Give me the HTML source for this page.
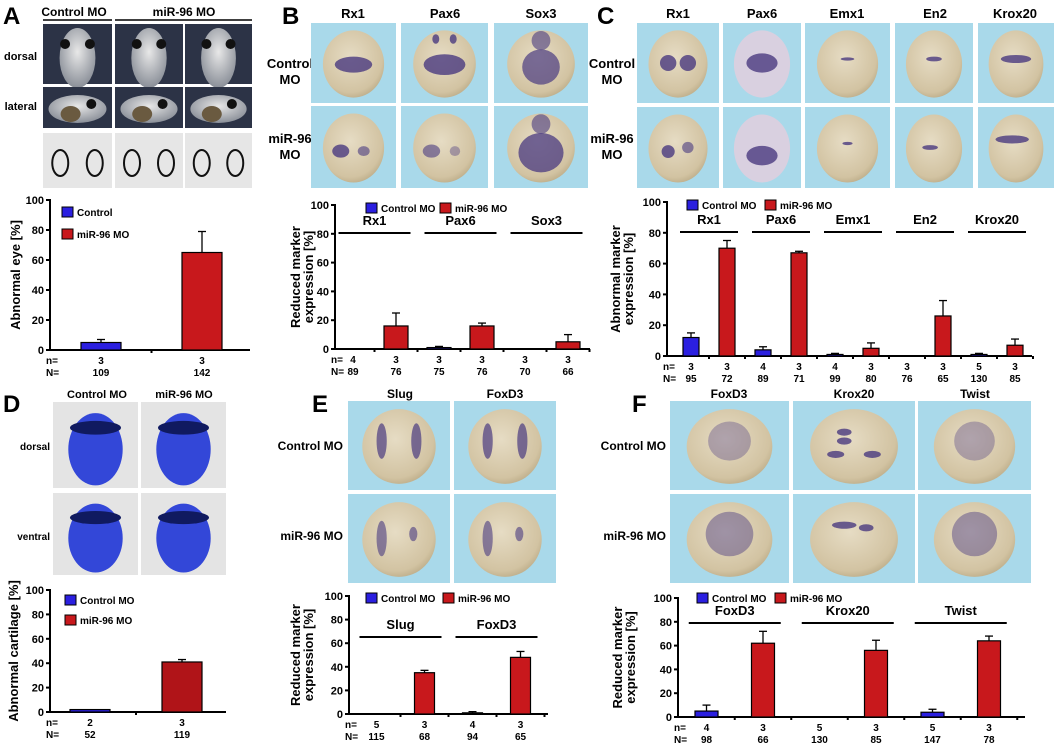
<!DOCTYPE html>
<html><head><meta charset="utf-8"><style>
html,body{margin:0;padding:0;background:#fff;}
svg{display:block;font-family:"Liberation Sans",Arial,sans-serif;}
text{font-weight:bold;fill:#000;}
</style></head><body>
<svg id="fig" width="1058" height="743" viewBox="0 0 1058 743" xmlns="http://www.w3.org/2000/svg">
<defs>
<radialGradient id="emb" cx="45%" cy="40%" r="65%"><stop offset="0" stop-color="#e6dcc4"/><stop offset="0.8" stop-color="#d2c3a2"/><stop offset="1" stop-color="#b9a985"/></radialGradient>
<radialGradient id="tad" cx="50%" cy="40%" r="60%"><stop offset="0" stop-color="#e8e8e8"/><stop offset="1" stop-color="#8a8f98"/></radialGradient>
</defs>
<g id="photos"></g>
<g id="charts"></g>
</svg>
<script>
// ---- chart data ----
const aCats = ['Control', 'miR-96 MO'];
const aVals = [5, 65];
const aErr = [2, 14];
const aSmallN = ['3', '3'];
const aBigN = ['109', '142'];

const bGroups = ['Rx1', 'Pax6', 'Sox3'];
const bCtrl = [0, 1, 0];
const bCtrlErr = [0, 0.8, 0];
const bMir = [16, 16, 5];
const bMirErr = [9, 2, 5];
const bSmallN = ['4', '3', '3', '3', '3', '3'];
const bBigN = ['89', '76', '75', '76', '70', '66'];

const cGroups = ['Rx1', 'Pax6', 'Emx1', 'En2', 'Krox20'];
const cCtrl = [12, 4, 1, 0, 1];
const cCtrlErr = [3, 2, 0.7, 0, 0.7];
const cMir = [70, 67, 5, 26, 7];
const cMirErr = [5, 1, 3.5, 10, 4];
const cSmallN = ['3', '3', '4', '3', '4', '3', '3', '3', '5', '3'];
const cBigN = ['95', '72', '89', '71', '99', '80', '76', '65', '130', '85'];

const dCats = ['Control MO', 'miR-96 MO'];
const dVals = [2, 41];
const dErr = [0, 2];
const dSmallN = ['2', '3'];
const dBigN = ['52', '119'];

const eGroups = ['Slug', 'FoxD3'];
const eCtrl = [0, 1];
const eCtrlErr = [0, 1];
const eMir = [35, 48];
const eMirErr = [2, 5];
const eSmallN = ['5', '3', '4', '3'];
const eBigN = ['115', '68', '94', '65'];

const fGroups = ['FoxD3', 'Krox20', 'Twist'];
const fCtrl = [5, 0, 4];
const fCtrlErr = [5, 0, 2.5];
const fMir = [62, 56, 64];
const fMirErr = [10, 8.5, 4];
const fSmallN = ['4', '3', '5', '3', '5', '3'];
const fBigN = ['98', '66', '130', '85', '147', '78'];

const yTicks = [0, 20, 40, 60, 80, 100];
const BLUE = '#2b1fe0', RED = '#c8181c';
const NS = 'http://www.w3.org/2000/svg';

function mk(parent, tag, attrs) {
  const e = document.createElementNS(NS, tag);
  for (const k in attrs) e.setAttribute(k, attrs[k]);
  parent.appendChild(e);
  return e;
}
function txt(parent, x, y, s, size, anchor, extra) {
  const t = mk(parent, 'text', Object.assign({x: x, y: y, 'font-size': size, 'text-anchor': anchor || 'middle'}, extra || {}));
  t.textContent = s;
  return t;
}

const charts = document.getElementById('charts');

function drawChart(cfg, name) {
  const g = mk(charts, 'g', {});
  
  
  const yS = v => cfg.y0 - (v / 100) * (cfg.y0 - cfg.y100);
  const xS = i => cfg.x0 + cfg.pad + i * cfg.step;
  // y axis
  const ya = mk(g, 'line', {x1: cfg.x0, y1: cfg.y100 - 1, x2: cfg.x0, y2: cfg.y0 + 1, stroke: '#000', 'stroke-width': 2});
  
  
  yTicks.forEach(t => {
    mk(g, 'line', {x1: cfg.x0 - 4, y1: yS(t), x2: cfg.x0, y2: yS(t), stroke: '#000', 'stroke-width': 2});
    const l = txt(g, cfg.x0 - 6, yS(t) + 4, String(t), 11, 'end');
    
    
  });
  const xa = mk(g, 'line', {x1: cfg.x0, y1: cfg.y0, x2: cfg.x1, y2: cfg.y0, stroke: '#000', 'stroke-width': 2});
  
  
  const nb = cfg.vals.length;
  for (let i = 1; i <= nb; i++) {
    const tx = cfg.x0 + cfg.pad + (i - 0.5) * cfg.step;
    if (tx < cfg.x1 + 2) mk(g, 'line', {x1: tx, y1: cfg.y0, x2: tx, y2: cfg.y0 + 3, stroke: '#000', 'stroke-width': 2});
  }
  // bars
  cfg.vals.forEach((v, i) => {
    const cx = xS(i), col = cfg.colors[i];
    if (v > 0) {
      const r = mk(g, 'rect', {x: cx - cfg.bw / 2, y: yS(v), width: cfg.bw, height: cfg.y0 - yS(v), fill: col, stroke: '#000', 'stroke-width': 1.2});
      
      
      const e = cfg.errs[i];
      if (e > 0) {
        mk(g, 'line', {x1: cx, y1: yS(v), x2: cx, y2: yS(v + e), stroke: '#000', 'stroke-width': 1.3});
        mk(g, 'line', {x1: cx - 4, y1: yS(v + e), x2: cx + 4, y2: yS(v + e), stroke: '#000', 'stroke-width': 1.3});
      }
    }
    txt(g, cx, cfg.y0 + 14, cfg.smallN[i], 10);
    txt(g, cx, cfg.y0 + 26, cfg.bigN[i], 10);
  });
  txt(g, cfg.x0 - 4, cfg.y0 + 14, 'n=', 10, 'start');
  txt(g, cfg.x0 - 4, cfg.y0 + 26, 'N=', 10, 'start');
  // groups
  if (cfg.groups) {
    cfg.groups.forEach((gn, j) => {
      const c = (xS(2 * j) + xS(2 * j + 1)) / 2;
      const gl = mk(g, 'line', {x1: c - cfg.gh, y1: cfg.gy, x2: c + cfg.gh, y2: cfg.gy, stroke: '#000', 'stroke-width': 2});
      
      
      const gt = txt(g, c, cfg.gy - 8, gn, 13);
      
      
    });
  }
  // legend
  cfg.legend.forEach(L => {
    mk(g, 'rect', {x: L[0], y: L[1] - 9, width: 11, height: 10, fill: L[3], stroke: '#000', 'stroke-width': 1});
    const lt = txt(g, L[0] + 15, L[1], L[2], 10, 'start');
    
    
  });
  // y title
  const yc = (cfg.y0 + cfg.y100) / 2;
  cfg.ytitle.forEach((s, k) => {
    const xx = cfg.ytx + k * 13;
    const t = txt(g, xx, yc, s, 13, 'middle', {transform: 'rotate(-90 ' + xx + ' ' + yc + ')'});
    
    
  });
}
function inter(c, m) { const o = []; c.forEach((v, i) => { o.push(v); o.push(m[i]); }); return o; }
function cols(n) { const o = []; for (let i = 0; i < n; i++) o.push(i % 2 ? RED : BLUE); return o; }
function labs(gs) { const o = []; gs.forEach(x => { o.push(x + '-control'); o.push(x + '-mir96'); }); return o; }

drawChart({x0: 50, x1: 250, y0: 350, y100: 200, pad: 51, step: 101, bw: 40, vals: aVals, errs: aErr, colors: [BLUE, RED], labels: ['control', 'mir96'],
  smallN: aSmallN, bigN: aBigN, legend: [[62, 216, aCats[0], BLUE], [62, 238, aCats[1], RED]], ytitle: ['Abnormal eye [%]'], ytx: 20}, 'chart-a');
drawChart({x0: 335, x1: 590, y0: 349, y100: 205, pad: 18, step: 43, bw: 24, vals: inter(bCtrl, bMir), errs: inter(bCtrlErr, bMirErr), colors: cols(6), labels: labs(bGroups),
  smallN: bSmallN, bigN: bBigN, groups: bGroups, gh: 36, gy: 233, legend: [[366, 212, 'Control MO', BLUE], [440, 212, 'miR-96 MO', RED]], ytitle: ['Reduced marker', 'expression [%]'], ytx: 300}, 'chart-b');
drawChart({x0: 667, x1: 1032, y0: 356, y100: 202, pad: 24, step: 36, bw: 16, vals: inter(cCtrl, cMir), errs: inter(cCtrlErr, cMirErr), colors: cols(10), labels: labs(cGroups),
  smallN: cSmallN, bigN: cBigN, groups: cGroups, gh: 29, gy: 232, legend: [[687, 209, 'Control MO', BLUE], [765, 209, 'miR-96 MO', RED]], ytitle: ['Abnormal marker', 'expression [%]'], ytx: 620}, 'chart-c');
drawChart({x0: 50, x1: 226, y0: 712, y100: 590, pad: 40, step: 92, bw: 40, vals: dVals, errs: dErr, colors: [BLUE, '#b01418'], labels: ['control', 'mir96'],
  smallN: dSmallN, bigN: dBigN, legend: [[65, 604, dCats[0], BLUE], [65, 624, dCats[1], RED]], ytitle: ['Abnormal cartilage [%]'], ytx: 18}, 'chart-d');
drawChart({x0: 349, x1: 548, y0: 714, y100: 596, pad: 27.5, step: 48, bw: 20, vals: inter(eCtrl, eMir), errs: inter(eCtrlErr, eMirErr), colors: cols(4), labels: labs(eGroups),
  smallN: eSmallN, bigN: eBigN, groups: eGroups, gh: 41, gy: 637, legend: [[366, 602, 'Control MO', BLUE], [443, 602, 'miR-96 MO', RED]], ytitle: ['Reduced marker', 'expression [%]'], ytx: 300}, 'chart-e');
drawChart({x0: 678, x1: 1025, y0: 717, y100: 598, pad: 28.5, step: 56.5, bw: 23, vals: inter(fCtrl, fMir), errs: inter(fCtrlErr, fMirErr), colors: cols(6), labels: labs(fGroups),
  smallN: fSmallN, bigN: fBigN, groups: fGroups, gh: 46, gy: 623, legend: [[697, 602, 'Control MO', BLUE], [775, 602, 'miR-96 MO', RED]], ytitle: ['Reduced marker', 'expression [%]'], ytx: 622}, 'chart-f');

// ---- photo panels (decorative) ----
const ph = document.getElementById('photos');
function letter(x, y, s) { const t = txt(ph, x, y, s, 24, 'start');   }
letter(3, 24, 'A'); letter(282, 24, 'B'); letter(597, 24, 'C'); letter(3, 412, 'D'); letter(312, 412, 'E'); letter(632, 412, 'F');

function embryo(x, y, w, h, blobs, pale) {
  const r = mk(ph, 'rect', {x: x, y: y, width: w, height: h, fill: '#a9d9ea'});
  
  
  mk(ph, 'ellipse', {cx: x + w / 2, cy: y + h / 2 + 1, rx: w * 0.36, ry: h * 0.42, fill: pale ? '#d9d0e0' : 'url(#emb)'});
  (blobs || []).forEach(b => mk(ph, 'ellipse', {cx: x + w * b[0], cy: y + h * b[1], rx: w * b[2], ry: h * b[3], fill: '#4a3a80', opacity: b[4] || 0.8}));
}
// A
txt(ph, 74, 16, 'Control MO', 12); mk(ph, 'line', {x1: 43, y1: 20, x2: 112, y2: 20, stroke: '#000', 'stroke-width': 1.5});
txt(ph, 184, 16, 'miR-96 MO', 12); mk(ph, 'line', {x1: 115, y1: 20, x2: 252, y2: 20, stroke: '#000', 'stroke-width': 1.5});
txt(ph, 37, 60, 'dorsal', 11, 'end'); txt(ph, 37, 110, 'lateral', 11, 'end');
[[43, 112], [115, 183], [185, 252]].forEach(c => {
  const w = c[1] - c[0];
  mk(ph, 'rect', {x: c[0], y: 24, width: w, height: 60, fill: '#2c3346'});
  mk(ph, 'ellipse', {cx: c[0] + w / 2, cy: 58, rx: w * 0.26, ry: 30, fill: 'url(#tad)'});
  mk(ph, 'circle', {cx: c[0] + w * 0.32, cy: 44, r: 5, fill: '#111'});
  mk(ph, 'circle', {cx: c[0] + w * 0.68, cy: 44, r: 5, fill: '#111'});
  mk(ph, 'rect', {x: c[0], y: 87, width: w, height: 41, fill: '#2c3346'});
  mk(ph, 'ellipse', {cx: c[0] + w / 2, cy: 109, rx: w * 0.42, ry: 14, fill: 'url(#tad)'});
  mk(ph, 'ellipse', {cx: c[0] + w * 0.4, cy: 114, rx: 10, ry: 8, fill: '#6a5a40'});
  mk(ph, 'circle', {cx: c[0] + w * 0.7, cy: 104, r: 5, fill: '#111'});
  mk(ph, 'rect', {x: c[0], y: 133, width: w, height: 55, fill: '#e6e6e6'});
  mk(ph, 'ellipse', {cx: c[0] + w * 0.25, cy: 163, rx: 8, ry: 13, fill: 'none', stroke: '#111', 'stroke-width': 2});
  mk(ph, 'ellipse', {cx: c[0] + w * 0.75, cy: 163, rx: 8, ry: 13, fill: 'none', stroke: '#111', 'stroke-width': 2});
});
// B
txt(ph, 353, 18, 'Rx1', 13); txt(ph, 445, 18, 'Pax6', 13); txt(ph, 541, 18, 'Sox3', 13);
txt(ph, 290, 68, 'Control', 13); txt(ph, 290, 84, 'MO', 13); txt(ph, 290, 143, 'miR-96', 13); txt(ph, 290, 159, 'MO', 13);
const bx = [[311, 85], [401, 87], [494, 94]];
embryo(bx[0][0], 23, bx[0][1], 80, [[0.5, 0.52, 0.22, 0.1]]);
embryo(bx[1][0], 23, bx[1][1], 80, [[0.5, 0.52, 0.24, 0.13], [0.4, 0.2, 0.04, 0.06], [0.6, 0.2, 0.04, 0.06]]);
embryo(bx[2][0], 23, bx[2][1], 80, [[0.5, 0.55, 0.2, 0.22, 0.7], [0.5, 0.22, 0.1, 0.12, 0.6]]);
embryo(bx[0][0], 106, bx[0][1], 82, [[0.35, 0.55, 0.1, 0.08], [0.62, 0.55, 0.07, 0.06, 0.6]]);
embryo(bx[1][0], 106, bx[1][1], 82, [[0.35, 0.55, 0.1, 0.08, 0.6], [0.62, 0.55, 0.06, 0.06, 0.4]]);
embryo(bx[2][0], 106, bx[2][1], 82, [[0.5, 0.57, 0.24, 0.24, 0.75], [0.5, 0.22, 0.1, 0.12, 0.6]]);
// C
txt(ph, 678, 18, 'Rx1', 13); txt(ph, 762, 18, 'Pax6', 13); txt(ph, 847, 18, 'Emx1', 13); txt(ph, 935, 18, 'En2', 13); txt(ph, 1015, 18, 'Krox20', 13);
txt(ph, 612, 68, 'Control', 13); txt(ph, 612, 84, 'MO', 13); txt(ph, 612, 143, 'miR-96', 13); txt(ph, 612, 159, 'MO', 13);
const cx5 = [[637, 82], [723, 78], [805, 85], [895, 78], [978, 76]];
const cb1 = [[[0.38, 0.5, 0.1, 0.1], [0.62, 0.5, 0.1, 0.1]], [[0.5, 0.5, 0.2, 0.12]], [[0.5, 0.45, 0.08, 0.02]], [[0.5, 0.45, 0.1, 0.03]], [[0.5, 0.45, 0.2, 0.05]]];
const cb2 = [[[0.38, 0.55, 0.08, 0.08], [0.62, 0.5, 0.07, 0.07, 0.6]], [[0.5, 0.6, 0.2, 0.12]], [[0.5, 0.45, 0.06, 0.02]], [[0.45, 0.5, 0.1, 0.03]], [[0.45, 0.4, 0.22, 0.05]]];
cx5.forEach((c, i) => { embryo(c[0], 23, c[1], 80, cb1[i], i === 1); embryo(c[0], 107, c[1], 81, cb2[i], i === 1); });
// D
txt(ph, 97, 398, 'Control MO', 11); txt(ph, 184, 398, 'miR-96 MO', 11);
txt(ph, 50, 450, 'dorsal', 10, 'end'); txt(ph, 50, 540, 'ventral', 10, 'end');
[[53, 85], [141, 85]].forEach((c, i) => {
  [[402, 86], [493, 82]].forEach(r => {
    mk(ph, 'rect', {x: c[0], y: r[0], width: c[1], height: r[1], fill: '#e4e4e4'});
    mk(ph, 'ellipse', {cx: c[0] + c[1] / 2, cy: r[0] + r[1] * 0.55, rx: c[1] * 0.32, ry: r[1] * 0.42, fill: '#3347d8'});
    mk(ph, 'ellipse', {cx: c[0] + c[1] / 2, cy: r[0] + r[1] * 0.3, rx: c[1] * 0.3, ry: r[1] * 0.08, fill: '#101a60'});
  });
});
// E
txt(ph, 400, 398, 'Slug', 12); txt(ph, 505, 398, 'FoxD3', 12);
txt(ph, 343, 450, 'Control MO', 12, 'end'); txt(ph, 343, 540, 'miR-96 MO', 12, 'end');
[[348, 102], [454, 102]].forEach(c => {
  embryo(c[0], 401, c[1], 89, [[0.33, 0.45, 0.05, 0.2, 0.7], [0.67, 0.45, 0.05, 0.2, 0.7]]);
  embryo(c[0], 494, c[1], 89, [[0.33, 0.5, 0.05, 0.2, 0.6], [0.64, 0.45, 0.04, 0.08, 0.6]]);
});
// F
txt(ph, 729, 398, 'FoxD3', 12); txt(ph, 854, 398, 'Krox20', 12); txt(ph, 975, 398, 'Twist', 12);
txt(ph, 666, 450, 'Control MO', 12, 'end'); txt(ph, 666, 540, 'miR-96 MO', 12, 'end');
[[670, 119], [793, 122], [918, 113]].forEach((c, i) => {
  const b1 = i === 1 ? [[0.42, 0.35, 0.06, 0.04], [0.42, 0.45, 0.06, 0.04], [0.35, 0.6, 0.07, 0.04], [0.65, 0.6, 0.07, 0.04]] : [[0.5, 0.45, 0.18, 0.22, 0.35]];
  embryo(c[0], 401, c[1], 89, b1);
  embryo(c[0], 494, c[1], 89, i === 1 ? [[0.42, 0.35, 0.1, 0.04], [0.6, 0.38, 0.06, 0.04]] : [[0.5, 0.45, 0.2, 0.25, 0.45]]);
});
</script>
</body></html>
